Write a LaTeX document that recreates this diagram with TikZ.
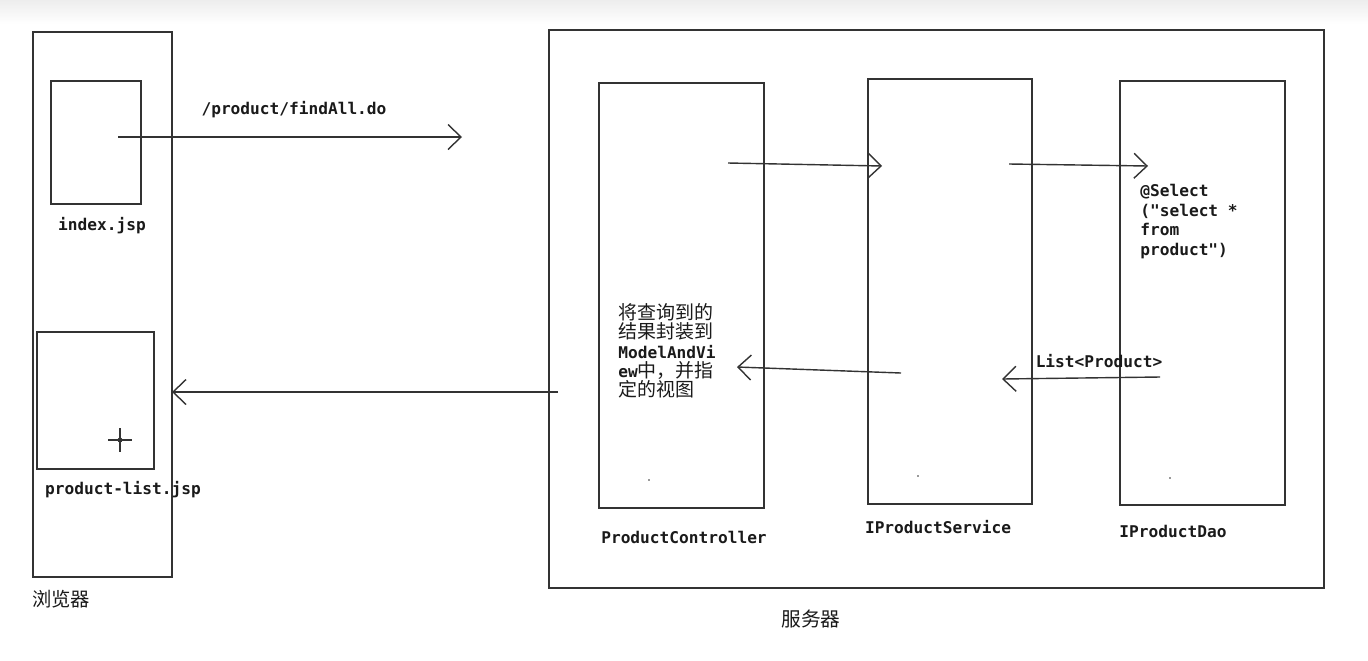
\documentclass[tikz,border=0pt]{standalone}
\usepackage{fontspec}
\usepackage{xcolor}
\usetikzlibrary{arrows.meta,positioning}
\newfontfamily\monofont{DejaVu Sans Mono}
\newfontfamily\cjk{Noto Sans CJK SC}
\definecolor{LN}{HTML}{333333}
\definecolor{TX}{HTML}{1A1A1A}
\newcommand{\mono}[1]{{\monofont\bfseries\fontsize{9.2}{11}\selectfont #1}}
\tikzset{
  box/.style={draw=LN, line width=0.8pt, inner sep=0pt},
  lbl/.style={text=TX, font=\monofont\bfseries\fontsize{9.2}{11.2}\selectfont, inner sep=0pt},
  cn/.style={text=TX, font=\cjk\fontsize{10.8}{11}\selectfont, inner sep=0pt},
  flow/.style={draw=LN, line width=0.8pt, -{Straight Barb[length=0.26cm,width=0.5cm]}},
}

\begin{document}
\begin{tikzpicture}[x=0.02cm, y=-0.02cm]
    \useasboundingbox (0,0) rectangle (1368,660);
    \shade[top color=gray!14, bottom color=white] (0,0) rectangle (1368,24);

    % browser
    \node[box, minimum width=2.78cm, minimum height=10.9cm] (browser) at (102.5,304.5) {};
    \node[box, minimum width=1.8cm, minimum height=2.46cm] (index) at (96,142.5) {};
    \node[box, minimum width=2.34cm, minimum height=2.74cm] (plist) at (95.5,400.5) {};
    \node[lbl] (indexlbl) at (102,226) {index.jsp};
    \node[lbl] (plistlbl) at (123,490) {product-list.jsp};
    \node[cn, font=\cjk\fontsize{11}{13}\selectfont] (browserlbl) at (61,599) {浏览器};
    \draw[LN, line width=0.6pt] (108,440) -- (132,440) (120,428) -- (120,452);
    \draw[LN, line width=0.5pt] (120,440) circle (2);

    % server
    \node[box, minimum width=15.5cm, minimum height=11.16cm] (server) at (936.5,309) {};
    \node[box, minimum width=3.3cm, minimum height=8.5cm] (ctrl) at (681.5,295.5) {};
    \node[box, minimum width=3.28cm, minimum height=8.5cm] (service) at (950,291.5) {};
    \node[box, minimum width=3.3cm, minimum height=8.48cm] (dao) at (1202.5,293) {};
    \node[lbl] (ctrllbl) at (684,537) {ProductController};
    \node[lbl] (servicelbl) at (938,527) {IProductService};
    \node[lbl] (daolbl) at (1173,531) {IProductDao};
    \node[cn, font=\cjk\fontsize{11.2}{13}\selectfont] (serverlbl) at (811,619) {服务器};
    \fill[LN] (649,480) circle (0.8) (918,476) circle (0.8) (1170,478) circle (0.8);

    \node[lbl, anchor=north west, align=left] (sql) at (1140,184)
      {@Select\\("select *\\from\\product")};
    \node[lbl] (listlbl) at (1099,361) {List<Product>};
    \node[cn, anchor=north west, align=left] (wrap) at (618,303)
      {将查询到的\\结果封装到\\\mono{ModelAndVi}\\\mono{ew}中，并指\\定的视图};
    \node[lbl] (urllbl) at (294,110) {/product/findAll.do};

    % requests and answers
    \coordinate (reqa) at (118,137);
    \coordinate (reqb) at (462,137);
    \coordinate (calla) at (728,163);
    \coordinate (callb) at (882,166);
    \coordinate (querya) at (1009,164);
    \coordinate (queryb) at (1148,166);
    \coordinate (lista) at (1160,377);
    \coordinate (listb) at (1002,379);
    \coordinate (backa) at (901,373);
    \coordinate (backb) at (737,367);
    \coordinate (viewa) at (558,392);
    \coordinate (viewb) at (172,392);
    \draw[flow] (reqa) -- (reqb);
    \draw[flow] (calla) -- (callb);
    \draw[flow] (querya) -- (queryb);
    \draw[flow] (lista) -- (listb);
    \draw[flow] (backa) -- (backb);
    \draw[flow] (viewa) -- (viewb);
\end{tikzpicture}
\end{document}
